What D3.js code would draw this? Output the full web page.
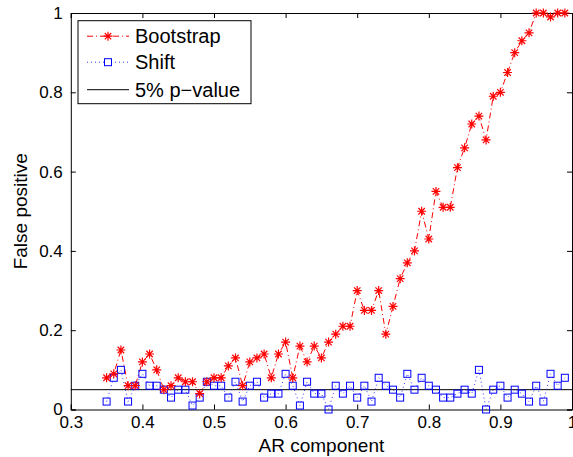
<!DOCTYPE html>
<html>
<head>
<meta charset="utf-8">
<script src="https://cdn.jsdelivr.net/npm/d3@7"></script>
<style>
  body { margin: 0; background: #fff; }
  svg { display: block; font-family: "Liberation Sans", Arial, sans-serif; }
</style>
</head>
<body>
<script>
// values
var arComponent = [0.35, 0.36, 0.37, 0.38, 0.39, 0.40, 0.41, 0.42, 0.43, 0.44,
  0.45, 0.46, 0.47, 0.48, 0.49, 0.50, 0.51, 0.52, 0.53, 0.54,
  0.55, 0.56, 0.57, 0.58, 0.59, 0.60, 0.61, 0.62, 0.63, 0.64,
  0.65, 0.66, 0.67, 0.68, 0.69, 0.70, 0.71, 0.72, 0.73, 0.74,
  0.75, 0.76, 0.77, 0.78, 0.79, 0.80, 0.81, 0.82, 0.83, 0.84,
  0.85, 0.86, 0.87, 0.88, 0.89, 0.90, 0.91, 0.92, 0.93, 0.94,
  0.95, 0.96, 0.97, 0.98, 0.99];

var bootstrap = [0.08, 0.09, 0.15, 0.06, 0.06, 0.12, 0.14, 0.10, 0.05, 0.06,
  0.08, 0.07, 0.07, 0.04, 0.07, 0.08, 0.08, 0.11, 0.13, 0.06,
  0.12, 0.13, 0.14, 0.08, 0.14, 0.17, 0.08, 0.16, 0.12, 0.16,
  0.13, 0.17, 0.19, 0.21, 0.21, 0.30, 0.25, 0.25, 0.30, 0.19,
  0.26, 0.33, 0.37, 0.40, 0.50, 0.43, 0.55, 0.51, 0.51, 0.61,
  0.66, 0.72, 0.74, 0.68, 0.79, 0.80, 0.85, 0.90, 0.93, 0.95,
  1.00, 1.00, 0.99, 1.00, 1.00];

var shift = [0.02, 0.08, 0.10, 0.02, 0.06, 0.09, 0.06, 0.06, 0.05, 0.03,
  0.05, 0.05, 0.01, 0.03, 0.07, 0.06, 0.06, 0.03, 0.07, 0.02,
  0.06, 0.07, 0.03, 0.04, 0.04, 0.09, 0.06, 0.01, 0.07, 0.04,
  0.04, 0.00, 0.06, 0.04, 0.06, 0.03, 0.06, 0.02, 0.08, 0.06,
  0.05, 0.03, 0.09, 0.05, 0.08, 0.06, 0.05, 0.03, 0.03, 0.04,
  0.05, 0.04, 0.10, 0.00, 0.05, 0.06, 0.03, 0.05, 0.04, 0.02,
  0.06, 0.02, 0.09, 0.06, 0.08];

var pValue = 0.05;
var xTicks = [0.3, 0.4, 0.5, 0.6, 0.7, 0.8, 0.9, 1];
var yTicks = [0, 0.2, 0.4, 0.6, 0.8, 1];
var seriesNames = ["Bootstrap", "Shift", "5% p\u2212value"];

var margin = { top: 13, right: 1, bottom: 47.5, left: 70.8 },
  width = 573 - margin.left - margin.right,
  height = 457 - margin.top - margin.bottom;

var x = d3.scaleLinear().domain([0.3, 1]).range([0, width]);
var y = d3.scaleLinear().domain([0, 1]).range([height, 0]);

var svg = d3.select("body").append("svg")
  .attr("width", 573)
  .attr("height", 457);

var chart = svg.append("g")
  .attr("transform", "translate(" + margin.left + "," + margin.top + ")");

// axes, ticks point inward like matlab
var fmt = function (d) { return d3.format("~g")(d); };

chart.append("g")
  .attr("class", "axis")
  .attr("transform", "translate(0," + height + ")")
  .call(d3.axisBottom(x).tickValues(xTicks).tickSize(-5).tickPadding(6).tickFormat(fmt));

chart.append("g")
  .attr("class", "axis")
  .call(d3.axisTop(x).tickValues(xTicks).tickSize(-5).tickFormat(""));

chart.append("g")
  .attr("class", "axis")
  .call(d3.axisLeft(y).tickValues(yTicks).tickSize(-5).tickPadding(8).tickFormat(fmt));

chart.append("g")
  .attr("class", "axis")
  .attr("transform", "translate(" + width + ",0)")
  .call(d3.axisRight(y).tickValues(yTicks).tickSize(-5).tickFormat(""));

chart.selectAll(".axis .domain").attr("stroke", "#000").attr("stroke-width", 1);
chart.selectAll(".axis line").attr("stroke", "#000");
chart.selectAll(".axis text")
  .attr("fill", "#000")
  .style("font-family", "'Liberation Sans', Arial, sans-serif")
  .style("font-size", "17px");

// axis labels
chart.append("text")
  .attr("x", width / 2)
  .attr("y", height + 42)
  .attr("text-anchor", "middle")
  .style("font-size", "19px")
  .text("AR component");

chart.append("text")
  .attr("transform", "rotate(-90)")
  .attr("x", -height / 2)
  .attr("y", -margin.left + 27)
  .attr("text-anchor", "middle")
  .style("font-size", "19px")
  .text("False positive");

// 5% line
chart.append("line")
  .attr("x1", 0).attr("x2", width)
  .attr("y1", y(pValue)).attr("y2", y(pValue))
  .attr("stroke", "#000")
  .attr("stroke-width", 1);

var boot = arComponent.map(function (d, i) { return { x: d, y: bootstrap[i] }; });
var shf = arComponent.map(function (d, i) { return { x: d, y: shift[i] }; });

var line = d3.line()
  .x(function (d) { return x(d.x); })
  .y(function (d) { return y(d.y); });

chart.append("path")
  .datum(shf)
  .attr("d", line)
  .attr("fill", "none")
  .attr("stroke", "#0000ff")
  .attr("stroke-width", 0.8)
  .attr("stroke-dasharray", "1,3");

chart.append("path")
  .datum(boot)
  .attr("d", line)
  .attr("fill", "none")
  .attr("stroke", "#ff0000")
  .attr("stroke-width", 1)
  .attr("stroke-dasharray", "6,3,1,3");

function starPath(r) {
  var d = r * 0.72;
  return "M" + (-r) + ",0L" + r + ",0M0," + (-r) + "L0," + r +
    "M" + (-d) + "," + (-d) + "L" + d + "," + d +
    "M" + (-d) + "," + d + "L" + d + "," + (-d);
}

chart.selectAll(".sq")
  .data(shf)
  .enter().append("rect")
  .attr("class", "sq")
  .attr("x", function (d) { return x(d.x) - 3.5; })
  .attr("y", function (d) { return y(d.y) - 3.5; })
  .attr("width", 7)
  .attr("height", 7)
  .attr("fill", "none")
  .attr("stroke", "#0000ff")
  .attr("stroke-width", 1);

chart.selectAll(".star")
  .data(boot)
  .enter().append("path")
  .attr("class", "star")
  .attr("transform", function (d) { return "translate(" + x(d.x) + "," + y(d.y) + ")"; })
  .attr("d", starPath(4.5))
  .attr("stroke", "#ff0000")
  .attr("stroke-width", 1.2)
  .attr("fill", "none");

// legend
var legend = chart.append("g")
  .attr("transform", "translate(" + (78 - margin.left) + "," + (20.7 - margin.top) + ")");

legend.append("rect")
  .attr("width", 173)
  .attr("height", 83)
  .attr("fill", "#fff")
  .attr("stroke", "#000")
  .attr("stroke-width", 1);

var rowY = [15.5, 41.5, 69];

legend.selectAll(".lg-text")
  .data(seriesNames)
  .enter().append("text")
  .attr("class", "lg-text")
  .attr("x", 57)
  .attr("y", function (d, i) { return rowY[i]; })
  .attr("dy", "0.35em")
  .style("font-size", "20px")
  .text(function (d) { return d; });

legend.append("line")
  .attr("x1", 9).attr("x2", 51).attr("y1", rowY[0]).attr("y2", rowY[0])
  .attr("stroke", "#ff0000").attr("stroke-dasharray", "6,3,1,3");
legend.append("path")
  .attr("transform", "translate(30," + rowY[0] + ")")
  .attr("d", starPath(4.5))
  .attr("stroke", "#ff0000").attr("stroke-width", 1.2);

legend.append("line")
  .attr("x1", 9).attr("x2", 51).attr("y1", rowY[1]).attr("y2", rowY[1])
  .attr("stroke", "#0000ff").attr("stroke-width", 0.8).attr("stroke-dasharray", "1,3");
legend.append("rect")
  .attr("x", 26.5).attr("y", rowY[1] - 3.5)
  .attr("width", 7).attr("height", 7)
  .attr("fill", "#fff").attr("stroke", "#0000ff");

legend.append("line")
  .attr("x1", 9).attr("x2", 51).attr("y1", rowY[2]).attr("y2", rowY[2])
  .attr("stroke", "#000");
</script>
</body>
</html>
